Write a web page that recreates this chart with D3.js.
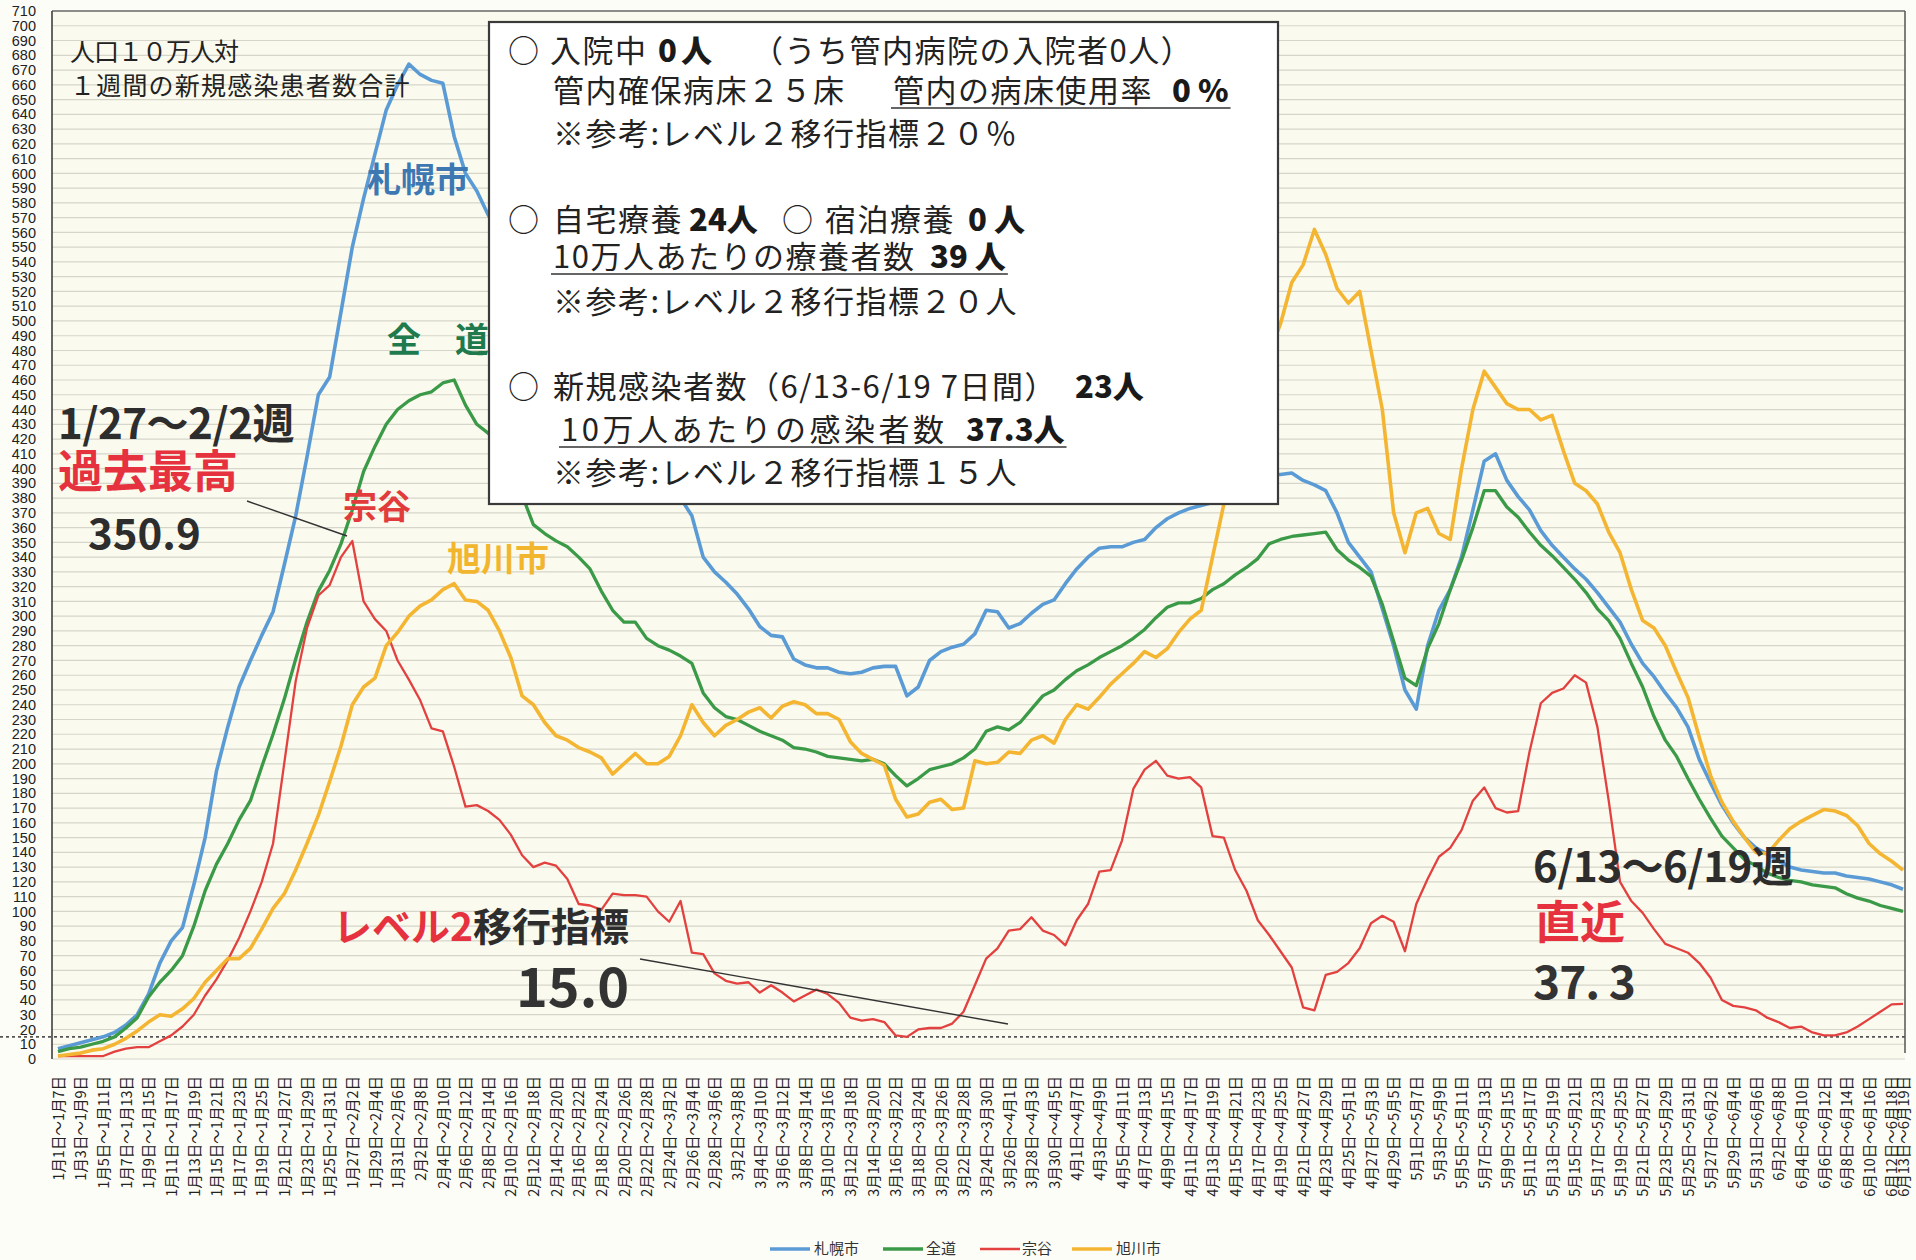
<!DOCTYPE html>
<html>
<head>
<meta charset="utf-8">
<script src="https://cdn.jsdelivr.net/npm/d3@7"></script>
<style>
html,body{margin:0;padding:0;background:#fdfdf8;}
svg{display:block;}
text{font-family:"Noto Sans CJK JP","Noto Sans",sans-serif;}
</style>
</head>
<body>
<div id="chart"></div>
<script>
(function(){

/* ---------- data: 7-day totals per 100k, windows 1/1-1/7 ... 6/13-6/19 ---------- */
const seriesNames = ["札幌市", "全道", "宗谷", "旭川市"];

const sapporo = [
  7,9,11,13,15,18,23,30,44,65, 80,89,118,150,195,225,252,270,287,303,
  335,368,408,450,462,506,550,583,613,643, 660,674,667,663,661,625,600,588,572,560,
  548,535,522,510,498,487,476,466,456,446, 435,424,412,400,390,380,368,340,330,323,
  315,305,293,287,286,271,267,265,265,262, 261,262,265,266,266,246,252,270,276,279,
  281,288,304,303,292,295,302,308,311,322, 332,340,346,347,347,350,352,360,366,370,
  373,375,377,379,382,387,392,396,396,397, 392,389,385,370,350,340,330,305,280,250,
  237,280,304,318,340,372,405,410,392,381, 372,358,348,340,332,325,316,306,296,281,
  268,259,248,238,225,203,187,172,160,150, 143,139,134,130,128,127,126,126,124,123,
  122,120,118,115
];

const zendo = [
  5,7,8,10,12,15,21,28,42,52, 60,70,90,114,132,146,162,175,198,220,
  244,271,296,317,331,349,372,398,415,430, 440,446,450,452,458,460,443,430,424,415,
  400,382,362,356,351,347,340,332,317,304, 296,296,285,280,277,273,268,248,238,232,
  230,226,222,219,216,211,210,208,205,204, 203,202,203,200,192,185,190,196,198,200,
  204,210,222,225,223,228,237,246,250,257, 263,267,272,276,280,285,291,299,306,309,
  309,312,318,322,328,333,339,349,352,354, 355,356,357,345,338,333,327,308,283,258,
  253,278,295,318,338,360,385,385,374,367, 357,348,341,333,325,316,305,297,285,268,
  252,232,216,205,190,176,163,151,143,135, 131,126,123,121,120,118,117,116,112,109,
  107,104,102,100
];

const soya = [
  2,2,2,2,2,5,7,8,8,12, 16,22,30,43,54,67,82,100,120,146,
  201,256,292,314,321,340,350.9,310,298,290, 270,257,243,224,222,198,171,172,168,162,
  152,138,130,133,131,122,105,104,101,112, 111,111,110,100,93,107,72,71,58,53,
  51,52,45,50,45,39,43,47,44,38, 28,26,27,25,16,15,20,21,21,24,
  32,50,68,75,87,88,96,87,84,77, 94,105,127,128,148,183,196,202,192,190,
  191,184,151,150,128,114,94,84,73,62, 35,33,57,59,65,75,92,97,93,73,
  105,122,137,143,155,175,184,170,167,168, 208,241,248,251,260,255,225,175,120,107,
  99,88,78,75,72,65,55,40,36,35, 33,28,25,21,22,18,16,16,18,22,
  27,32,37,37.3
];

const asahikawa = [
  2,3,4,6,7,10,14,19,25,30, 29,34,41,52,60,68,68,75,88,102,
  112,128,146,165,188,212,240,252,258,280, 289,300,307,311,318,322,311,310,304,290,
  272,246,240,228,219,216,211,208,204,193, 200,207,200,200,205,219,240,228,219,226,
  230,235,238,231,239,242,240,234,234,230, 215,207,203,199,176,164,166,174,176,169,
  170,202,200,201,208,207,216,219,214,230, 240,237,245,254,261,268,276,272,278,289,
  298,304,340,376,405,430,455,478,498,526, 538,562,545,522,512,520,480,440,370,343,
  370,373,356,352,400,440,466,455,444,440, 440,433,436,412,390,385,376,357,343,318,
  297,292,280,262,245,218,192,174,161,150, 140,139,148,156,161,165,169,168,165,158,
  146,139,134,128
];

const yTicks = d3.range(0, 711, 10);
const levelLine = 15;

// category labels built from the window start dates (2021)
const firstDay = new Date(2021, 0, 1);
const categories = sapporo.map((_, i) => {
  const s = d3.timeDay.offset(firstDay, i), e = d3.timeDay.offset(firstDay, i + 6);
  return `${s.getMonth()+1}月${s.getDate()}日～${e.getMonth()+1}月${e.getDate()}日`;
});
const tickCats = categories.filter((c, i) => i % 2 === 0 || i === categories.length - 1);

/* ---------- svg ---------- */
const W = 1916, H = 1260;
const plot = {left: 52, right: 1905, top: 11, bottom: 1059};

const svg = d3.select("#chart").append("svg")
  .attr("width", W).attr("height", H);

svg.append("rect").attr("width", W).attr("height", H).attr("fill", "#fdfdf8");

const x = d3.scalePoint().domain(categories).range([58, 1903]);
const y = d3.scaleLinear().domain([0, 710]).range([plot.bottom, plot.top]);

// plot background
svg.append("rect")
  .attr("x", plot.left).attr("y", plot.top)
  .attr("width", plot.right - plot.left).attr("height", plot.bottom - plot.top)
  .attr("fill", "#fbfaee");

// gridlines
svg.append("g").selectAll("line")
  .data(yTicks)
  .enter().append("line")
  .attr("x1", plot.left).attr("x2", plot.right)
  .attr("y1", d => y(d)).attr("y2", d => y(d))
  .attr("stroke", "#d5d5ca").attr("stroke-width", 1.2);

// frame
svg.append("line").attr("x1", plot.left).attr("x2", plot.right)
  .attr("y1", plot.top).attr("y2", plot.top)
  .attr("stroke", "#6d6d6d").attr("stroke-width", 1.5);
svg.append("line").attr("x1", plot.right).attr("x2", plot.right)
  .attr("y1", plot.top).attr("y2", plot.bottom - 6)
  .attr("stroke", "#555").attr("stroke-width", 1.5);
svg.append("line").attr("x1", plot.left).attr("x2", plot.left)
  .attr("y1", plot.top).attr("y2", plot.bottom)
  .attr("stroke", "#333").attr("stroke-width", 1.5);

// y axis
const yAxis = svg.append("g")
  .attr("transform", `translate(${plot.left},0)`)
  .call(d3.axisLeft(y).tickValues(yTicks).tickSize(0).tickPadding(16));
yAxis.select(".domain").remove();
yAxis.selectAll("text")
  .style("font-family", "'Liberation Sans', Arial, sans-serif")
  .style("font-size", "14.5px").attr("fill", "#222");

// x axis (rotated labels)
const xAxis = svg.append("g")
  .attr("transform", `translate(0,${plot.bottom})`)
  .call(d3.axisBottom(x).tickValues(tickCats).tickSize(0));
xAxis.select(".domain").remove();
xAxis.selectAll("text")
  .attr("transform", "rotate(-90)")
  .attr("text-anchor", "end")
  .attr("x", -17).attr("y", 0).attr("dy", "0.36em")
  .style("font-size", "14.5px")
  .style("font-family", "'Noto Sans CJK JP', sans-serif")
  .attr("fill", "#222");

// level-2 reference line (15)
svg.append("line")
  .attr("x1", 0).attr("x2", plot.right)
  .attr("y1", y(levelLine)).attr("y2", y(levelLine))
  .attr("stroke", "#555").attr("stroke-width", 1.6)
  .attr("stroke-dasharray", "3,3");

/* ---------- series lines ---------- */
const series = [
  {name: seriesNames[0], values: sapporo,   color: "#5b9bd5", width: 3.6},
  {name: seriesNames[1], values: zendo,     color: "#3b9a48", width: 3.3},
  {name: seriesNames[2], values: soya,      color: "#e2413f", width: 2.3},
  {name: seriesNames[3], values: asahikawa, color: "#f4b632", width: 3.6}
];

const line = d3.line()
  .x((d, i) => x(categories[i]))
  .y(d => y(d));

svg.append("g").selectAll("path")
  .data(series)
  .enter().append("path")
  .attr("d", d => line(d.values))
  .attr("fill", "none")
  .attr("stroke", d => d.color)
  .attr("stroke-width", d => d.width)
  .attr("stroke-linejoin", "round");

/* ---------- info box ---------- */
const box = svg.append("g");
box.append("rect")
  .attr("x", 489).attr("y", 22).attr("width", 789).attr("height", 482)
  .attr("fill", "#ffffff").attr("stroke", "#3a3a3a").attr("stroke-width", 2.2);

const boxFont = 31;
const boxLines = [
  {y: 62, segs: [
    {t: "○", x: 508}, {t: "入院中", x: 550}, {t: "0", x: 658, b: true}, {t: "人", x: 681, b: true},
    {t: "（うち管内病院の入院者0人）", x: 752}]},
  {y: 102, segs: [
    {t: "管内確保病床２５床", x: 553},
    {t: "管内の病床使用率", x: 893, u: true}, {t: "0 %", x: 1172, b: true, u: true}]},
  {y: 145, segs: [{t: "※参考:レベル２移行指標２０％", x: 553}]},
  {y: 231, segs: [
    {t: "○", x: 508}, {t: "自宅療養", x: 553}, {t: "24人", x: 689, b: true},
    {t: "○", x: 782}, {t: "宿泊療養", x: 825}, {t: "0 人", x: 968, b: true}]},
  {y: 268, segs: [
    {t: "10万人あたりの療養者数", x: 553, u: true}, {t: "39 人", x: 930, b: true, u: true}]},
  {y: 313, segs: [{t: "※参考:レベル２移行指標２０人", x: 553}]},
  {y: 398, segs: [
    {t: "○", x: 508}, {t: "新規感染者数（6/13-6/19 7日間）", x: 553}, {t: "23人", x: 1075, b: true}]},
  {y: 441, segs: [
    {t: "10万人あたりの感染者数", x: 561, u: true, ls: 3.5}, {t: "37.3人", x: 966, b: true, u: true}]},
  {y: 484, segs: [{t: "※参考:レベル２移行指標１５人", x: 553}]}
];

boxLines.forEach(l => {
  let ulStart = null, ulEnd = null;
  l.segs.forEach(s => {
    const ls = s.ls != null ? s.ls : (s.b ? 0 : 1.5);
    const t = box.append("text")
      .attr("x", s.x).attr("y", l.y)
      .style("font-size", boxFont + "px")
      .style("font-weight", s.b ? 900 : 400)
      .style("letter-spacing", ls + "px")
      .attr("fill", s.b ? "#1a1a1a" : "#222")
      .style("white-space", "pre")
      .text(s.t);
    if (s.u) {
      const len = t.node().getComputedTextLength();
      if (ulStart === null) ulStart = s.x;
      ulEnd = s.x + len;
    }
  });
  if (ulStart !== null) {
    box.append("line")
      .attr("x1", ulStart - 2).attr("x2", ulEnd + 2)
      .attr("y1", l.y + 6).attr("y2", l.y + 6)
      .attr("stroke", "#333").attr("stroke-width", 1.6);
  }
});

/* ---------- annotations ---------- */
const notes = svg.append("g");

function note(t, xPos, yPos, size, color, weight, spacing) {
  return notes.append("text")
    .attr("x", xPos).attr("y", yPos)
    .style("font-size", size + "px")
    .style("font-weight", weight || 700)
    .style("letter-spacing", (spacing || 0) + "px")
    .style("white-space", "pre")
    .attr("fill", color)
    .text(t);
}

note("人口１０万人対", 70, 61, 25, "#222", 400, -1);
note("１週間の新規感染患者数合計", 70, 95, 25, "#222", 400, 1.2);

note("札幌市", 367, 192, 34, "#3e78b3", 700);
note("全　道", 387, 352, 34, "#1f7a4e", 700);
note("宗谷", 343, 519, 34, "#e23b3b", 700);
note("旭川市", 447, 571, 34, "#f1b52e", 700);

note("1/27～2/2週", 58, 439, 42, "#2d2d2d", 700, -0.5);
note("過去最高", 58, 488, 45, "#e5323e", 700);
note("350.9", 88, 549, 42, "#2d2d2d", 700);

notes.append("line")
  .attr("x1", 247).attr("y1", 501).attr("x2", 347).attr("y2", 536)
  .attr("stroke", "#333").attr("stroke-width", 1.4);

const lv = notes.append("text")
  .attr("x", 333).attr("y", 941)
  .style("font-size", "39px").style("font-weight", 700);
lv.append("tspan").attr("fill", "#e5323e").text("レベル2");
lv.append("tspan").attr("fill", "#2d2d2d").text("移行指標");

note("15.0", 516, 1007, 54, "#333", 700);
notes.append("line")
  .attr("x1", 640).attr("y1", 959).attr("x2", 1008).attr("y2", 1024)
  .attr("stroke", "#333").attr("stroke-width", 1.4);

note("6/13～6/19週", 1533, 882, 42, "#2d2d2d", 700, -0.5);
note("直近", 1535, 939, 45, "#e5323e", 700);
note("37. 3", 1533, 999, 46, "#333", 700, -1);

/* ---------- legend ---------- */
const legendItems = [
  {x: 770, tx: 814}, {x: 883, tx: 926}, {x: 980, tx: 1022}, {x: 1072, tx: 1116}
];
const legend = svg.append("g");
series.forEach((s, i) => {
  const it = legendItems[i];
  legend.append("line")
    .attr("x1", it.x).attr("x2", it.x + 40)
    .attr("y1", 1249).attr("y2", 1249)
    .attr("stroke", s.color).attr("stroke-width", Math.max(2.5, s.width));
  legend.append("text")
    .attr("x", it.tx).attr("y", 1254)
    .style("font-size", "15px").attr("fill", "#333")
    .text(s.name);
});

})();
</script>
</body>
</html>
